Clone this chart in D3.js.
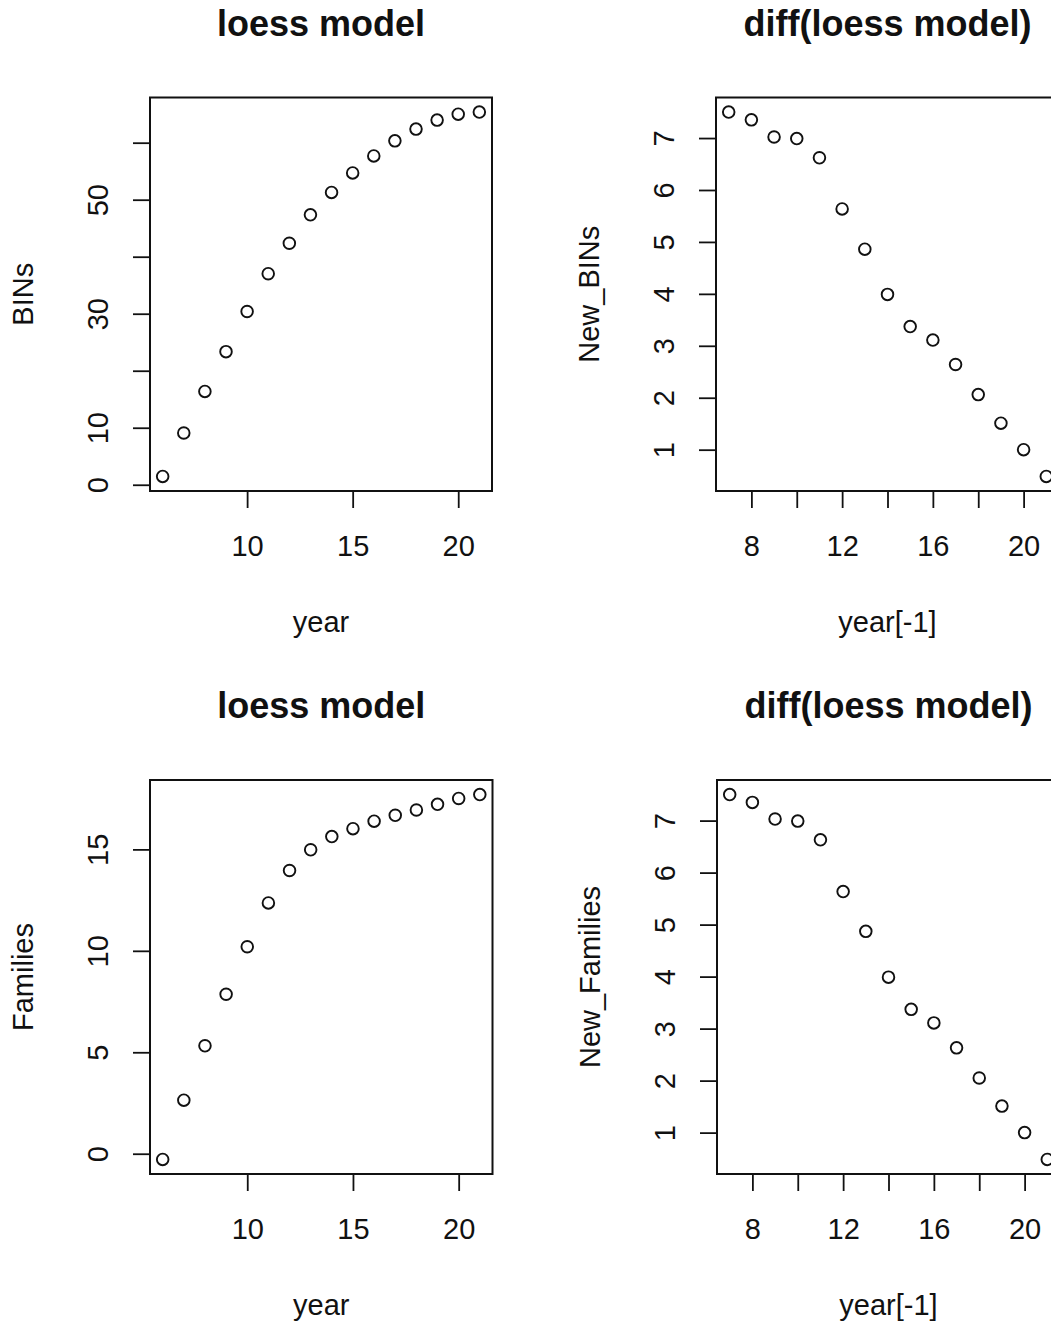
<!DOCTYPE html>
<html>
<head>
<meta charset="utf-8">
<script src="https://cdn.jsdelivr.net/npm/d3@7"></script>
<style>
  html, body { margin: 0; padding: 0; background: #fff; overflow: hidden; }
  svg { display: block; }
  text { font-family: "Liberation Sans", Arial, Helvetica, sans-serif; fill: #111; }
</style>
</head>
<body>
<script>
// Years on the x axis
const years = [6, 7, 8, 9, 10, 11, 12, 13, 14, 15, 16, 17, 18, 19, 20, 21];
const yearsLag = [7, 8, 9, 10, 11, 12, 13, 14, 15, 16, 17, 18, 19, 20, 21];

// Fitted loess values
const binsFit = [1.46, 9.08, 16.37, 23.35, 30.39, 37.02, 42.36, 47.35, 51.28, 54.70, 57.68, 60.32, 62.38, 63.96, 65.00, 65.37];
const familiesFit = [-0.28, 2.64, 5.32, 7.86, 10.20, 12.36, 13.96, 14.98, 15.63, 16.02, 16.39, 16.68, 16.94, 17.22, 17.51, 17.70];

// Year-on-year differences of the fits
const newBins = [7.50, 7.35, 7.02, 6.99, 6.62, 5.635, 4.86, 3.99, 3.37, 3.11, 2.64, 2.06, 1.51, 1.00, 0.485];
const newFamilies = [7.50, 7.35, 7.03, 6.99, 6.63, 5.635, 4.87, 3.99, 3.37, 3.11, 2.63, 2.05, 1.51, 1.00, 0.485];

// Axis ticks and which of them carry labels
const xTicksYear = [10, 15, 20];
const xTicksLag = [8, 10, 12, 14, 16, 18, 20];
const xLabelsLag = [8, 12, 16, 20];
const yTicksBins = [0, 10, 20, 30, 40, 50, 60];
const yLabelsBins = [0, 10, 30, 50];
const yTicksFamilies = [0, 5, 10, 15];
const yTicksNew = [1, 2, 3, 4, 5, 6, 7];

const W = 1051, H = 1325;
const svg = d3.select("body").append("svg").attr("width", W).attr("height", H);

const panels = [
  { title: "loess model", xLab: "year", yLab: "BINs", xs: years, ys: binsFit,
    xTicks: xTicksYear, xLabels: xTicksYear, yTicks: yTicksBins, yLabels: yLabelsBins,
    box: { x0: 150, x1: 492, y0: 97.5, y1: 491 } },
  { title: "diff(loess model)", xLab: "year[-1]", yLab: "New_BINs", xs: yearsLag, ys: newBins,
    xTicks: xTicksLag, xLabels: xLabelsLag, yTicks: yTicksNew, yLabels: yTicksNew,
    box: { x0: 716, x1: 1059, y0: 97.5, y1: 491 } },
  { title: "loess model", xLab: "year", yLab: "Families", xs: years, ys: familiesFit,
    xTicks: xTicksYear, xLabels: xTicksYear, yTicks: yTicksFamilies, yLabels: yTicksFamilies,
    box: { x0: 150, x1: 492.5, y0: 780, y1: 1174 } },
  { title: "diff(loess model)", xLab: "year[-1]", yLab: "New_Families", xs: yearsLag, ys: newFamilies,
    xTicks: xTicksLag, xLabels: xLabelsLag, yTicks: yTicksNew, yLabels: yTicksNew,
    box: { x0: 717, x1: 1060, y0: 780, y1: 1174 } }
];

// Extend a data range by 4% on each side, like base R plots do
function padded(vals) {
  const [lo, hi] = d3.extent(vals);
  const p = (hi - lo) * 0.04;
  return [lo - p, hi + p];
}

const TICK = 17;
const AXIS_FONT = 29;
const TITLE_FONT = 36;

panels.forEach(p => {
  const b = p.box;
  const x = d3.scaleLinear().domain(padded(p.xs)).range([b.x0, b.x1]);
  const y = d3.scaleLinear().domain(padded(p.ys)).range([b.y1, b.y0]);
  const g = svg.append("g");

  // Bottom axis
  const xa = g.append("g").attr("transform", `translate(0,${b.y1})`)
    .call(d3.axisBottom(x).tickValues(p.xTicks).tickSize(TICK)
      .tickFormat(d => p.xLabels.includes(d) ? String(d) : ""));
  xa.select(".domain").remove();
  xa.selectAll(".tick line").attr("stroke", "#111").attr("stroke-width", 1.8);
  xa.selectAll(".tick text").attr("y", 65).attr("dy", 0)
    .attr("font-size", AXIS_FONT).attr("fill", "#111")
    .style("font-family", '"Liberation Sans", Arial, sans-serif');

  // Left axis with labels turned to run upward
  const ya = g.append("g").attr("transform", `translate(${b.x0},0)`)
    .call(d3.axisLeft(y).tickValues(p.yTicks).tickSize(TICK)
      .tickFormat(d => p.yLabels.includes(d) ? String(d) : ""));
  ya.select(".domain").remove();
  ya.selectAll(".tick line").attr("stroke", "#111").attr("stroke-width", 1.8);
  ya.selectAll(".tick text")
    .attr("x", 0).attr("y", 0).attr("dy", 0)
    .attr("transform", "translate(-42,0) rotate(-90)")
    .attr("text-anchor", "middle")
    .attr("font-size", AXIS_FONT).attr("fill", "#111")
    .style("font-family", '"Liberation Sans", Arial, sans-serif');

  // Plot box
  g.append("rect")
    .attr("x", b.x0).attr("y", b.y0)
    .attr("width", b.x1 - b.x0).attr("height", b.y1 - b.y0)
    .attr("fill", "none").attr("stroke", "#111").attr("stroke-width", 2);

  // Points as open circles
  g.append("g").selectAll("circle")
    .data(p.xs.map((v, i) => [v, p.ys[i]]))
    .join("circle")
    .attr("cx", d => x(d[0])).attr("cy", d => y(d[1]))
    .attr("r", 5.8)
    .attr("fill", "none").attr("stroke", "#111").attr("stroke-width", 1.9);

  const cx = (b.x0 + b.x1) / 2;
  const cy = (b.y0 + b.y1) / 2;

  // Title
  g.append("text").attr("x", cx).attr("y", b.y0 - 62)
    .attr("text-anchor", "middle").attr("font-size", TITLE_FONT).attr("font-weight", "bold")
    .text(p.title);

  // Axis titles
  g.append("text").attr("x", cx).attr("y", b.y1 + 141)
    .attr("text-anchor", "middle").attr("font-size", AXIS_FONT)
    .text(p.xLab);
  g.append("text")
    .attr("transform", `translate(${b.x0 - 117},${cy}) rotate(-90)`)
    .attr("text-anchor", "middle").attr("font-size", AXIS_FONT)
    .text(p.yLab);
});
</script>
</body>
</html>
